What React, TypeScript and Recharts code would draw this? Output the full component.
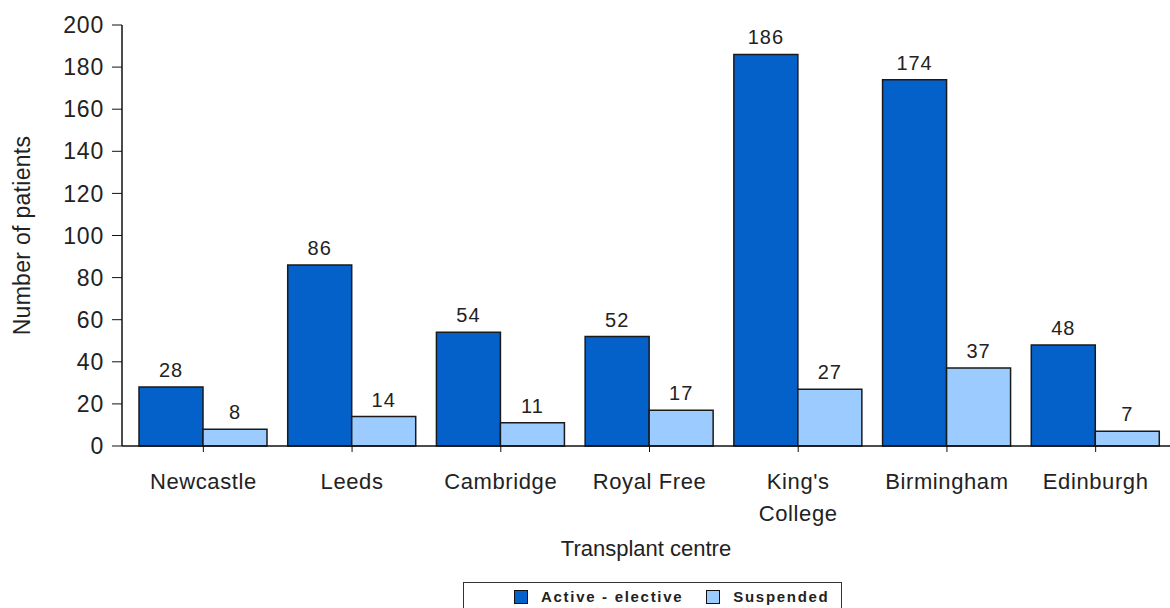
import { Bar, BarChart, LabelList, XAxis, YAxis } from "recharts";

const centres = ["Newcastle", "Leeds", "Cambridge", "Royal Free", "King's\nCollege", "Birmingham", "Edinburgh"];
const activeElective = [28, 86, 54, 52, 186, 174, 48];
const suspended = [8, 14, 11, 17, 27, 37, 7];
const yTicks = [0, 20, 40, 60, 80, 100, 120, 140, 160, 180, 200];

const DARK = "#0461c9";
const LIGHT = "#9ccbff";
const FONT = "'Liberation Sans', Arial, sans-serif";

const data = centres.map((name, i) => ({
  name,
  active: activeElective[i],
  suspended: suspended[i]
}));

function CentreTick({ x, y, payload }: any) {
  const lines = String(payload.value).split("\n");
  return (
    <text x={x} y={y} textAnchor="middle" fontSize={22} fill="#222" fontFamily={FONT} letterSpacing={0.6}>
      {lines.map((line, i) => (
        <tspan key={i} x={x} dy={i === 0 ? 35 : 32}>
          {line}
        </tspan>
      ))}
    </text>
  );
}

function LegendBox() {
  const item = (colour: string, label: string, gap: number) => (
    <span style={{ display: "inline-flex", alignItems: "center", marginRight: gap }}>
      <span
        style={{
          display: "inline-block",
          width: 12,
          height: 12,
          background: colour,
          border: "1.5px solid #111",
          marginRight: 13
        }}
      />
      <span style={{ fontSize: 15, fontWeight: "bold", letterSpacing: 1.7, color: "#222" }}>{label}</span>
    </span>
  );
  return (
    <div
      style={{
        position: "absolute",
        left: 463,
        top: 582,
        width: 379,
        height: 40,
        border: "1.5px solid #333",
        boxSizing: "border-box",
        fontFamily: FONT,
        paddingLeft: 50,
        paddingTop: 5,
        whiteSpace: "nowrap"
      }}
    >
      {item(DARK, "Active - elective", 23)}
      {item(LIGHT, "Suspended", 0)}
    </div>
  );
}

export default function App() {
  return (
    <div style={{ position: "absolute", left: 0, top: 0, width: 1170, height: 608, overflow: "hidden", background: "#fff" }}>
      <BarChart
        width={1170}
        height={608}
        data={data}
        margin={{ top: 25, right: 0, bottom: 0, left: 0 }}
        barCategoryGap={10}
        barGap={0}
      >
        <XAxis
          dataKey="name"
          interval={0}
          height={162}
          padding={{ left: 7, right: 0 }}
          tick={<CentreTick />}
          tickSize={6}
          axisLine={{ stroke: "#111", strokeWidth: 1.5 }}
          tickLine={{ stroke: "#111" }}
          label={{
            value: "Transplant centre",
            position: "insideTop",
            offset: 94,
            fontSize: 22,
            fill: "#222",
            fontFamily: FONT
          }}
        />
        <YAxis
          width={122}
          domain={[0, 200]}
          ticks={yTicks}
          interval={0}
          tickSize={10}
          tickMargin={8}
          tick={{ fontSize: 23, fill: "#222", fontFamily: FONT, letterSpacing: 0.8 }}
          axisLine={{ stroke: "#111", strokeWidth: 1.5 }}
          tickLine={{ stroke: "#111" }}
          label={{
            value: "Number of patients",
            angle: -90,
            position: "insideLeft",
            offset: 22,
            textAnchor: "middle",
            fontSize: 23,
            letterSpacing: 0.3,
            fill: "#222",
            fontFamily: FONT
          }}
        />
        <Bar dataKey="active" fill={DARK} stroke="#1a1a1a" strokeWidth={1.5} isAnimationActive={false}>
          <LabelList dataKey="active" position="top" offset={10} fontSize={20} letterSpacing={1} fill="#222" fontFamily={FONT} />
        </Bar>
        <Bar dataKey="suspended" fill={LIGHT} stroke="#1a1a1a" strokeWidth={1.5} isAnimationActive={false}>
          <LabelList dataKey="suspended" position="top" offset={10} fontSize={20} letterSpacing={1} fill="#222" fontFamily={FONT} />
        </Bar>
      </BarChart>
      <LegendBox />
    </div>
  );
}
